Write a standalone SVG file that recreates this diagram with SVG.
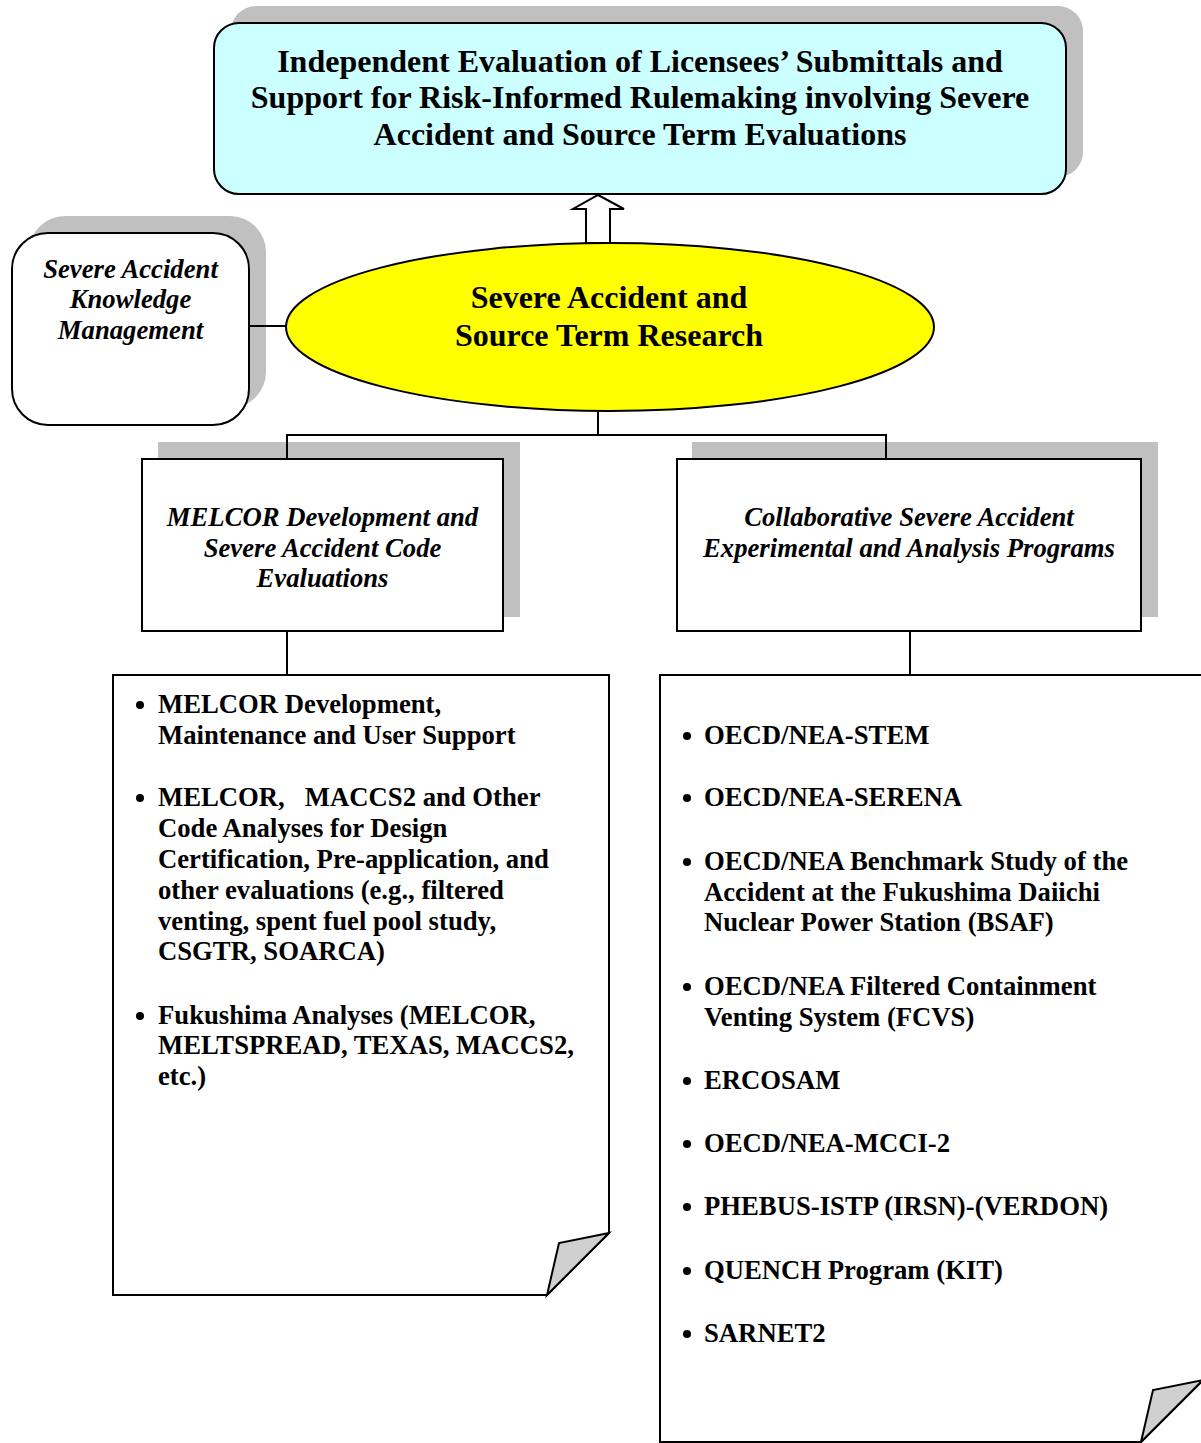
<svg xmlns="http://www.w3.org/2000/svg" width="1201" height="1443" viewBox="0 0 1201 1443">
<style>
.shadow{fill:#C0C0C0;stroke:none}
.box{stroke:#000;stroke-width:2}
.line{fill:none;stroke:#000;stroke-width:2}
.big{font-family:"Liberation Serif","Times New Roman",serif;font-weight:bold;font-size:32px;fill:#000;text-anchor:middle}
.it{font-family:"Liberation Serif","Times New Roman",serif;font-weight:bold;font-style:italic;font-size:26.7px;fill:#000;text-anchor:middle}
.bl{font-family:"Liberation Serif","Times New Roman",serif;font-weight:bold;font-size:26.7px;fill:#000}
.fold{fill:#D0D0D0;stroke:#000;stroke-width:2;stroke-linejoin:miter}
</style>
<rect width="1201" height="1443" fill="#fff"/>
<g id="top">
<rect class="shadow" x="231" y="6" width="852" height="171" rx="25"/>
<rect class="box" x="214" y="23" width="852" height="171" rx="25" fill="#CCFFFF"/>
<text class="big" x="640" y="72">Independent Evaluation of Licensees’ Submittals and</text>
<text class="big" x="640" y="108">Support for Risk-Informed Rulemaking involving Severe</text>
<text class="big" x="640" y="145">Accident and Source Term Evaluations</text>
</g>
<g id="knowledge">
<rect class="shadow" x="29" y="216" width="237" height="192" rx="36"/>
<rect class="box" x="12" y="233" width="237" height="192" rx="36" fill="#fff"/>
<text class="it" x="130.5" y="278">Severe Accident</text>
<text class="it" x="130.5" y="308">Knowledge</text>
<text class="it" x="130.5" y="339">Management</text>
</g>
<g id="research">
<ellipse class="box" cx="610" cy="327" rx="324" ry="84" fill="#FFFF00"/>
<text class="big" x="609" y="308">Severe Accident and</text>
<text class="big" x="609" y="346">Source Term Research</text>
</g>
<g id="melcor">
<rect class="shadow" x="158" y="442" width="362" height="175"/>
<rect class="box" x="142" y="459" width="361" height="172" fill="#fff"/>
<text class="it" x="322.5" y="526">MELCOR Development and</text>
<text class="it" x="322.5" y="557">Severe Accident Code</text>
<text class="it" x="322.5" y="587">Evaluations</text>
</g>
<g id="collab">
<rect class="shadow" x="692" y="442" width="466" height="175"/>
<rect class="box" x="677" y="459" width="464" height="172" fill="#fff"/>
<text class="it" x="909" y="526">Collaborative Severe Accident</text>
<text class="it" x="909" y="557">Experimental and Analysis Programs</text>
</g>
<g id="melcor-list">
<path class="box" d="M113,675 H609 V1233 L547,1295 H113 Z" fill="#fff"/>
<polygon class="fold" points="609,1233 559,1243 547,1295"/>
<circle cx="140" cy="705" r="4"/>
<circle cx="140" cy="798" r="4"/>
<circle cx="140" cy="1016" r="4"/>
<text class="bl" x="158" y="713">MELCOR Development,</text>
<text class="bl" x="158" y="744">Maintenance and User Support</text>
<text class="bl" x="158" y="806" xml:space="preserve">MELCOR,   MACCS2 and Other</text>
<text class="bl" x="158" y="837">Code Analyses for Design</text>
<text class="bl" x="158" y="868">Certification, Pre-application, and</text>
<text class="bl" x="158" y="899">other evaluations (e.g., filtered</text>
<text class="bl" x="158" y="930">venting, spent fuel pool study,</text>
<text class="bl" x="158" y="960">CSGTR, SOARCA)</text>
<text class="bl" x="158" y="1024">Fukushima Analyses (MELCOR,</text>
<text class="bl" x="158" y="1054">MELTSPREAD, TEXAS, MACCS2,</text>
<text class="bl" x="158" y="1085">etc.)</text>
</g>
<g id="collab-list">
<path class="box" d="M660,675 H1203 V1380 L1141,1442 H660 Z" fill="#fff"/>
<polygon class="fold" points="1203,1380 1153,1390 1141,1442"/>
<circle cx="687" cy="736" r="4"/>
<circle cx="687" cy="798" r="4"/>
<circle cx="687" cy="862" r="4"/>
<circle cx="687" cy="987" r="4"/>
<circle cx="687" cy="1081" r="4"/>
<circle cx="687" cy="1144" r="4"/>
<circle cx="687" cy="1207" r="4"/>
<circle cx="687" cy="1271" r="4"/>
<circle cx="687" cy="1334" r="4"/>
<text class="bl" x="704" y="744">OECD/NEA-STEM</text>
<text class="bl" x="704" y="806">OECD/NEA-SERENA</text>
<text class="bl" x="704" y="870">OECD/NEA Benchmark Study of the</text>
<text class="bl" x="704" y="901">Accident at the Fukushima Daiichi</text>
<text class="bl" x="704" y="931">Nuclear Power Station (BSAF)</text>
<text class="bl" x="704" y="995">OECD/NEA Filtered Containment</text>
<text class="bl" x="704" y="1026">Venting System (FCVS)</text>
<text class="bl" x="704" y="1089">ERCOSAM</text>
<text class="bl" x="704" y="1152">OECD/NEA-MCCI-2</text>
<text class="bl" x="704" y="1215">PHEBUS-ISTP (IRSN)-(VERDON)</text>
<text class="bl" x="704" y="1279">QUENCH Program (KIT)</text>
<text class="bl" x="704" y="1342">SARNET2</text>
</g>
<g id="connectors">
<polygon points="586,243 586,209 573,209 598,195 624,209 610,209 610,243" fill="#fff" stroke="#000" stroke-width="2" stroke-linejoin="miter"/>
<line class="line" x1="249" y1="326" x2="287" y2="326"/>
<polyline class="line" points="598,411 598,435"/>
<polyline class="line" points="287,459 287,435 886,435 886,459"/>
<line class="line" x1="287" y1="631" x2="287" y2="675"/>
<line class="line" x1="910" y1="631" x2="910" y2="675"/>
</g>
</svg>
